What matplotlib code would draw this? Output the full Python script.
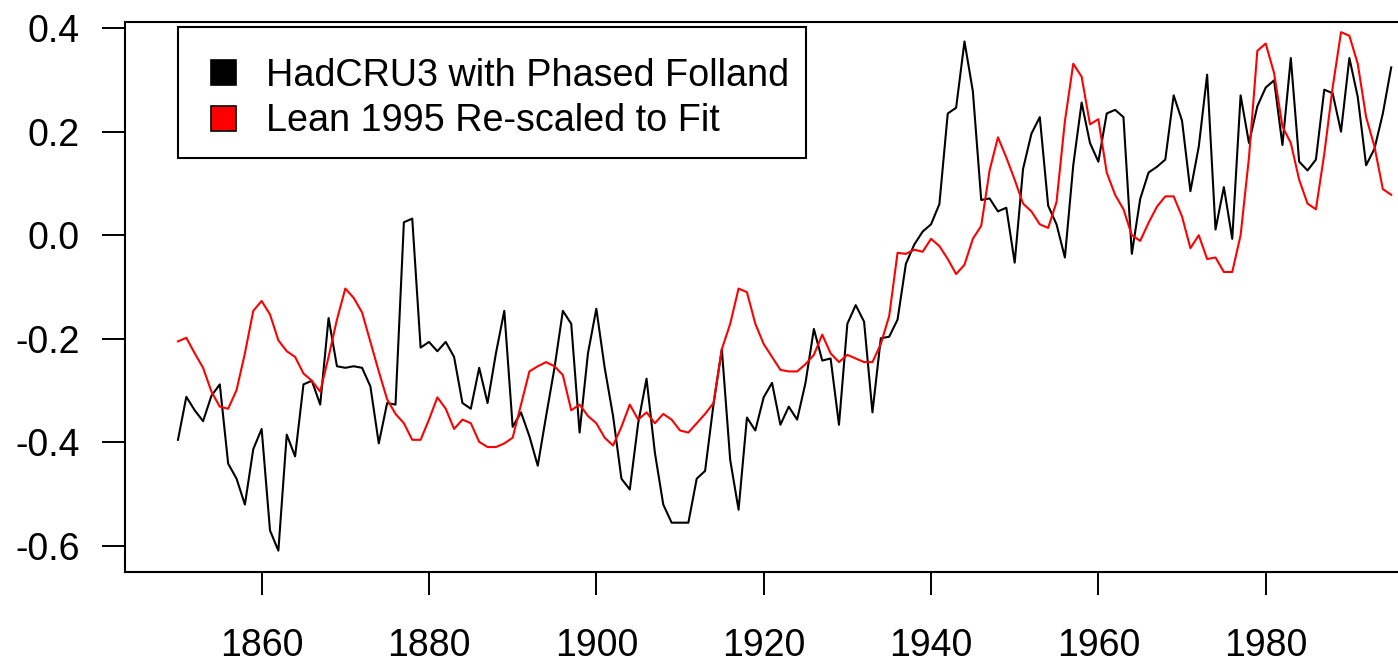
import matplotlib
matplotlib.use("Agg")
import matplotlib.pyplot as plt
from matplotlib.lines import Line2D
from matplotlib.patches import Rectangle
import numpy as np

plt.rcParams['font.family'] = ['Liberation Sans', 'DejaVu Sans']
plt.rcParams['axes.unicode_minus'] = False

years = list(range(1850, 1996))

hadcru3 = [
    -0.395, -0.312, -0.338, -0.359, -0.310, -0.288, -0.441, -0.470, -0.520, -0.413,
    -0.374, -0.570, -0.609, -0.385, -0.427, -0.288, -0.281, -0.327, -0.160, -0.253,
    -0.256, -0.253, -0.256, -0.292, -0.402, -0.324, -0.327, 0.025, 0.032, -0.217,
    -0.206, -0.224, -0.206, -0.235, -0.324, -0.335, -0.256, -0.324, -0.228, -0.146,
    -0.370, -0.342, -0.388, -0.445, -0.349, -0.256, -0.146, -0.171, -0.381, -0.228,
    -0.142, -0.256, -0.349, -0.470, -0.491, -0.363, -0.277, -0.420, -0.520, -0.555,
    -0.555, -0.555, -0.470, -0.455, -0.327, -0.220, -0.434, -0.530, -0.352, -0.377,
    -0.313, -0.285, -0.366, -0.331, -0.356, -0.285, -0.181, -0.242, -0.238, -0.366,
    -0.171, -0.135, -0.167, -0.342, -0.199, -0.196, -0.163, -0.055, -0.018, 0.007,
    0.021, 0.060, 0.235, 0.246, 0.374, 0.278, 0.068, 0.071, 0.046, 0.053,
    -0.053, 0.128, 0.196, 0.228, 0.057, 0.021, -0.043, 0.135, 0.256, 0.178,
    0.142, 0.235, 0.242, 0.228, -0.036, 0.070, 0.121, 0.132, 0.146, 0.270,
    0.221, 0.085, 0.171, 0.310, 0.011, 0.093, -0.007, 0.270, 0.178, 0.249,
    0.285, 0.299, 0.174, 0.342, 0.142, 0.125, 0.146, 0.281, 0.274, 0.200,
    0.342, 0.267, 0.135, 0.167, 0.235, 0.324,
]

lean1995 = [
    -0.205, -0.198, -0.228, -0.256, -0.302, -0.331, -0.335, -0.299, -0.228, -0.146,
    -0.127, -0.153, -0.203, -0.224, -0.235, -0.267, -0.281, -0.302, -0.235, -0.163,
    -0.103, -0.121, -0.149, -0.206, -0.263, -0.317, -0.345, -0.363, -0.395, -0.395,
    -0.356, -0.313, -0.335, -0.374, -0.356, -0.363, -0.399, -0.409, -0.409, -0.402,
    -0.391, -0.327, -0.263, -0.253, -0.245, -0.253, -0.270, -0.338, -0.327, -0.349,
    -0.363, -0.391, -0.406, -0.370, -0.327, -0.356, -0.342, -0.363, -0.345, -0.356,
    -0.377, -0.381, -0.363, -0.345, -0.324, -0.220, -0.171, -0.103, -0.110, -0.171,
    -0.210, -0.235, -0.260, -0.263, -0.263, -0.249, -0.231, -0.192, -0.228, -0.245,
    -0.231, -0.238, -0.245, -0.245, -0.210, -0.156, -0.034, -0.036, -0.028, -0.032,
    -0.007, -0.021, -0.046, -0.075, -0.057, -0.007, 0.018, 0.125, 0.189, 0.150,
    0.107, 0.061, 0.046, 0.021, 0.014, 0.064, 0.220, 0.331, 0.306, 0.214,
    0.224, 0.121, 0.078, 0.050, 0.000, -0.011, 0.024, 0.055, 0.075, 0.075,
    0.036, -0.025, 0.000, -0.046, -0.043, -0.071, -0.071, 0.000, 0.150, 0.356,
    0.370, 0.313, 0.210, 0.178, 0.107, 0.061, 0.050, 0.157, 0.285, 0.392,
    0.385, 0.331, 0.228, 0.171, 0.089, 0.078,
]

x_ticks = [1860, 1880, 1900, 1920, 1940, 1960, 1980]
y_ticks = [-0.6, -0.4, -0.2, 0.0, 0.2, 0.4]
series_labels = ["HadCRU3 with Phased Folland", "Lean 1995 Re-scaled to Fit"]

W, H = 1398, 665
fig = plt.figure(figsize=(W / 100, H / 100), dpi=100)
ax = fig.add_axes([125 / W, (H - 572) / H, 1275 / W, 550 / H])

ax.plot(years, hadcru3, color='black', linewidth=1.5)
ax.plot(years, lean1995, color='#ff0000', linewidth=1.5)

ax.set_xlim(1843.67, 1996.05)
ax.set_ylim(-0.6502, 0.4116)

ax.set_xticks(x_ticks)
ax.set_xticklabels([str(v) for v in x_ticks])
ax.set_yticks(y_ticks)
ax.set_yticklabels([f"{v:.1f}" for v in y_ticks])

for s in ax.spines.values():
    s.set_linewidth(1.5)
ax.spines['right'].set_visible(False)

ax.tick_params(axis='both', which='major', direction='out', length=16.5, width=1.4,
               labelsize=27, colors='black')
ax.tick_params(axis='x', pad=24)
ax.tick_params(axis='y', pad=16)

# legend box frame (drawn separately so its padding can differ per side)
ax.add_patch(Rectangle((178 / W, 1 - 158 / H), (806 - 178) / W, (158 - 27) / H,
                       transform=fig.transFigure, facecolor='white',
                       edgecolor='black', linewidth=1.5, zorder=4, clip_on=False))

handles = [
    Line2D([], [], marker='s', linestyle='none', markerfacecolor='black',
           markeredgecolor='black', markersize=18, markeredgewidth=1.2),
    Line2D([], [], marker='s', linestyle='none', markerfacecolor='#ff0000',
           markeredgecolor='black', markersize=18, markeredgewidth=1.2),
]
leg = ax.legend(handles, series_labels, loc='upper left',
                bbox_to_anchor=(178 / W, 1 - 36 / H), bbox_transform=fig.transFigure,
                borderaxespad=0, fontsize=27.2, frameon=False,
                borderpad=0.57, handlelength=1.26, handletextpad=0.49,
                labelspacing=0.25)
leg.set_zorder(5)

fig.savefig("out.png", dpi=100)
